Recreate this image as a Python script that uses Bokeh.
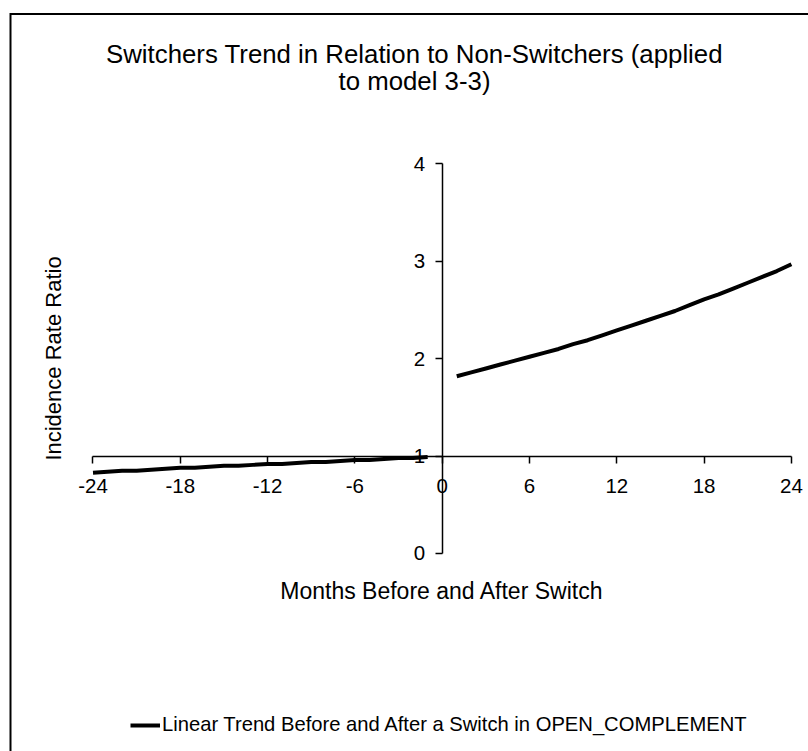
from bokeh.plotting import figure
from bokeh.models import LinearAxis, FixedTicker, Label, Legend, LegendItem, Range1d
from bokeh.embed import file_html
from bokeh.resources import INLINE

# ---- data ----
months_before = [-24, -23, -22, -21, -20, -19, -18, -17, -16, -15, -14, -13,
                 -12, -11, -10, -9, -8, -7, -6, -5, -4, -3, -2, -1]
irr_before = [0.83, 0.84, 0.85, 0.85, 0.86, 0.87, 0.88, 0.88, 0.89, 0.90, 0.90, 0.91,
              0.92, 0.92, 0.93, 0.94, 0.94, 0.95, 0.96, 0.96, 0.97, 0.98, 0.98, 0.99]
months_after = [1, 2, 3, 4, 5, 6, 7, 8, 9, 10, 11, 12,
                13, 14, 15, 16, 17, 18, 19, 20, 21, 22, 23, 24]
irr_after = [1.82, 1.86, 1.90, 1.94, 1.98, 2.02, 2.06, 2.10, 2.15, 2.19, 2.24, 2.29,
             2.34, 2.39, 2.44, 2.49, 2.55, 2.61, 2.66, 2.72, 2.78, 2.84, 2.90, 2.97]
x_ticks = [-24, -18, -12, -6, 0, 6, 12, 18, 24]
y_ticks = [0, 1, 2, 3, 4]

title_line1 = "Switchers Trend in Relation to Non-Switchers (applied"
title_line2 = "to model 3-3)"
x_title = "Months Before and After Switch"
y_title = "Incidence Rate Ratio"
legend_text = "Linear Trend Before and After a Switch in OPEN_COMPLEMENT"

FONT = "Liberation Sans"
W, H = 808, 751
X0, X1 = -30.357, 25.175
Y0, Y1 = -2.033, 5.678

p = figure(width=W, height=H, output_backend="svg", toolbar_location=None,
           x_range=Range1d(X0, X1), y_range=Range1d(Y0, Y1),
           x_axis_location=None, y_axis_location=None, title_location=None,
           min_border=0, min_border_left=0, min_border_right=0,
           min_border_top=0, min_border_bottom=0)
p.outline_line_color = None
p.background_fill_color = "white"
p.border_fill_color = "white"
p.grid.visible = False

# outer chart border: only its left and top edges fall inside the picture
px_x = W / (X1 - X0)
px_y = H / (Y1 - Y0)
bx = X0 + 10.0 / px_x
by = Y1 - 13.5 / px_y
p.line([bx, bx, X1 + 1], [Y0 - 1, by, by], line_color="black", line_width=2,
       line_join="miter")

# axes crossing at (0, 1)
xaxis = LinearAxis(fixed_location=1, ticker=FixedTicker(ticks=x_ticks, minor_ticks=[]),
                   bounds=(-24, 24))
yaxis = LinearAxis(fixed_location=0, ticker=FixedTicker(ticks=y_ticks, minor_ticks=[]),
                   bounds=(0, 4))
for ax in (xaxis, yaxis):
    ax.axis_line_color = "black"
    ax.axis_line_width = 1.5
    ax.major_tick_line_color = "black"
    ax.major_tick_line_width = 1.5
    ax.major_tick_in = 0
    ax.major_tick_out = 7
    ax.minor_tick_line_color = None
    ax.major_label_text_font = FONT
    ax.major_label_text_font_size = "20.5px"
    ax.major_label_text_color = "black"
    ax.axis_label_text_font = FONT
    ax.axis_label_text_font_style = "normal"
    ax.axis_label_text_color = "black"
xaxis.major_label_overrides = {t: str(t) for t in x_ticks}
yaxis.major_label_overrides = {t: str(t) for t in y_ticks}
xaxis.major_label_standoff = 16
yaxis.major_label_standoff = 10
xaxis.axis_label = x_title
xaxis.axis_label_text_font_size = "23px"
xaxis.axis_label_standoff = 81
yaxis.axis_label = y_title
yaxis.axis_label_text_font_size = "22px"
yaxis.axis_label_standoff = 345
p.add_layout(xaxis, "below")
p.add_layout(yaxis, "left")

# data lines
r1 = p.line(months_before, irr_before, line_color="black", line_width=4)
r2 = p.line(months_after, irr_after, line_color="black", line_width=4)

# title (two lines)
for txt, yy in ((title_line1, 697.7), (title_line2, 670.5)):
    p.add_layout(Label(x=414, y=yy, x_units="screen", y_units="screen", text=txt,
                       text_align="center", text_baseline="alphabetic",
                       text_font=FONT, text_font_size="25.8px", text_color="black"))

legend = Legend(items=[LegendItem(label=legend_text, renderers=[r1])],
                location=(130, 15), border_line_color=None, background_fill_alpha=0,
                label_text_font=FONT, label_text_font_size="20.2px",
                label_text_color="black", glyph_width=30, glyph_height=20,
                label_standoff=2, padding=0, margin=0, spacing=0)
p.add_layout(legend, "center")

open("out.html", "w").write(file_html(p, INLINE))
